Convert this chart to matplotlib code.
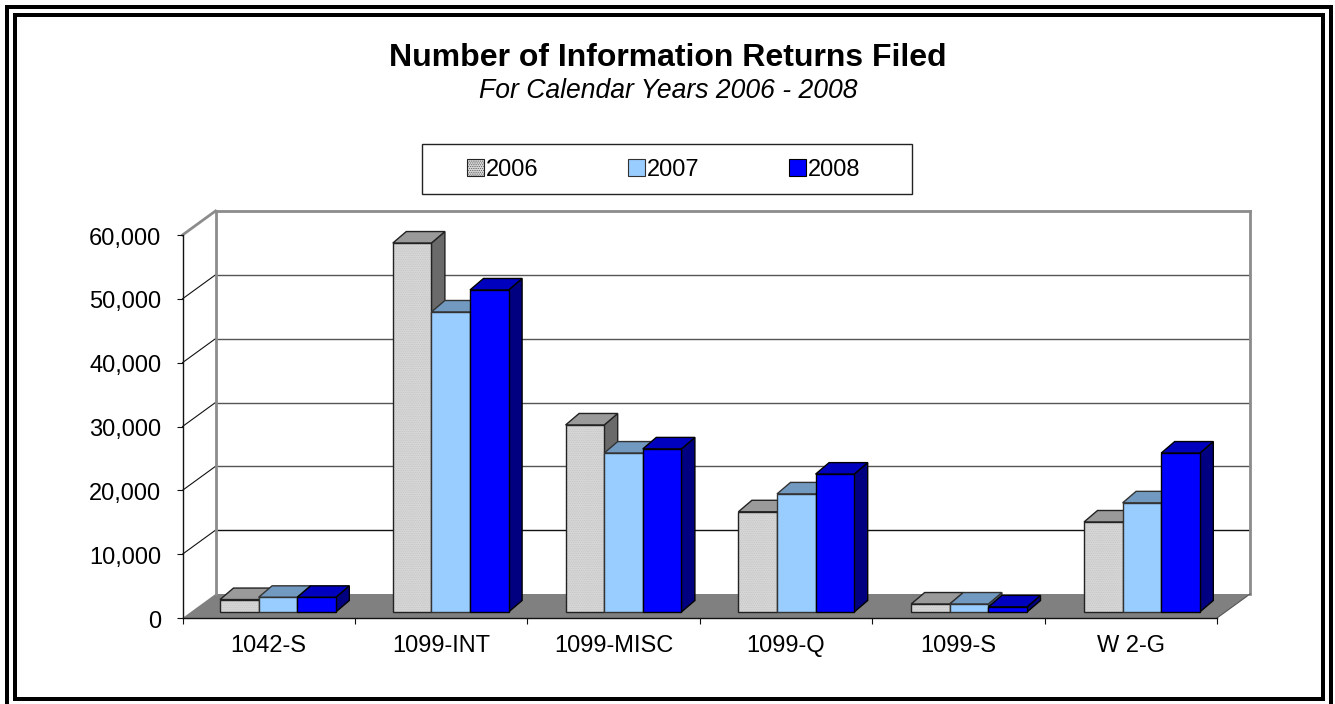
import matplotlib
matplotlib.use("Agg")
import matplotlib.pyplot as plt
from matplotlib.patches import Polygon, Rectangle
from matplotlib.transforms import ScaledTranslation

plt.rcParams['font.family'] = ['Liberation Sans', 'DejaVu Sans']
plt.rcParams['hatch.linewidth'] = 0.3

categories = ['1042-S', '1099-INT', '1099-MISC', '1099-Q', '1099-S', 'W 2-G']
years = ['2006', '2007', '2008']
v2006 = [1950, 57800, 29300, 15700, 1250, 14100]
v2007 = [2300, 47000, 24900, 18500, 1250, 17100]
v2008 = [2300, 50450, 25550, 21600, 800, 24900]
y_ticks = [0, 10000, 20000, 30000, 40000, 50000, 60000]

W, H = 1335, 704
fig = plt.figure(figsize=(W / 100, H / 100), dpi=100, facecolor='white')


def frect(x0, y0, x1, y1, **kw):
    fig.add_artist(Rectangle((x0 / W, 1 - y1 / H), (x1 - x0) / W, (y1 - y0) / H,
                             transform=fig.transFigure, **kw))


# double page frame
for x0, y0, x1, y1 in [(5, 5, 1333, 8.5), (5, 5, 9, 704), (1329, 5, 1333, 704),
                       (13, 13, 1325, 16.5), (13, 13, 17, 701), (1321, 13, 1325, 701),
                       (13, 697, 1325, 701)]:
    frect(x0, y0, x1, y1, facecolor='black', edgecolor='none')

ax_l, ax_r, ax_t, ax_b = 182.5, 1217, 235, 618
ax = fig.add_axes([ax_l / W, 1 - ax_b / H, (ax_r - ax_l) / W, (ax_b - ax_t) / H])
ax.set_xlim(0, 6)
ax.set_ylim(0, 60000)
ax.patch.set_alpha(0)
ux = (ax_r - ax_l) / 6       # px per category
uy = (ax_b - ax_t) / 60000   # px per value unit

DX, DY = 33 / ux, 24 / uy          # chart depth
BDX, BDY = 13.5 / ux, 11.5 / uy    # bar depth
BASE = 6 / uy                      # bars stand in from the floor's front edge
BAR_W = 38.6 / ux
FIRST = 37.5 / ux
STEP = 172.8 / ux

# floor
ax.add_patch(Polygon([(0, 0), (6, 0), (6 + DX, DY), (DX, DY)], closed=True,
                     facecolor='#808080', edgecolor='none', clip_on=False, zorder=1))
# wall grid
for i, v in enumerate(y_ticks[1:]):
    last = v == y_ticks[-1]
    c = '#8c8c8c' if last else ('#111111' if v == 10000 else '#555555')
    lw = 2.0 if last else 1.0
    ax.plot([0, DX], [v, v + DY], color='#8c8c8c' if last else '#111111',
            lw=2.0 if last else 0.8, clip_on=False, zorder=1.5)
    ax.plot([DX, 6 + DX], [v + DY, v + DY], color=c, lw=lw, clip_on=False, zorder=1.5)
# wall borders
for x in (DX, 6 + DX):
    ax.plot([x, x], [DY, 60000 + DY], color='#8c8c8c', lw=2.0, clip_on=False, zorder=1.6)
ax.plot([6, 6 + DX], [0, DY], color='#555555', lw=0.8, clip_on=False, zorder=1.6)

styles = [
    dict(face='#d6d6d6', top='#9a9a9a', side='#6a6a6a', edge='#222222', hatch='.........', hc='#bdbdbd'),
    dict(face='#99ccff', top='#7299bf', side='#4d6680', edge='#333333', hatch=None, hc=None),
    dict(face='#0000ff', top='#0000bf', side='#000080', edge='#000000', hatch=None, hc=None),
]
series = [v2006, v2007, v2008]

z = 3.0
for i in range(len(categories)):
    for j, vals in enumerate(series):
        s = styles[j]
        x0 = i * STEP + FIRST + j * BAR_W
        x1 = x0 + BAR_W
        y0, y1 = BASE, BASE + vals[i]
        side = Polygon([(x1, y0), (x1 + BDX, y0 + BDY), (x1 + BDX, y1 + BDY), (x1, y1)], closed=True,
                       facecolor=s['side'], edgecolor=s['edge'], lw=1.0, clip_on=False, zorder=z)
        top = Polygon([(x0, y1), (x1, y1), (x1 + BDX, y1 + BDY), (x0 + BDX, y1 + BDY)], closed=True,
                      facecolor=s['top'], edgecolor=s['edge'], lw=1.0, clip_on=False, zorder=z)
        ax.add_patch(side)
        ax.add_patch(top)
        # fill, optional dither, then outline
        ax.bar(x0, vals[i], width=BAR_W, bottom=BASE, align='edge', color=s['face'],
               edgecolor='none', clip_on=False, zorder=z + 0.1)
        if s['hatch']:
            ax.bar(x0, vals[i], width=BAR_W, bottom=BASE, align='edge', facecolor='none',
                   edgecolor=s['hc'], hatch=s['hatch'], lw=0, clip_on=False, zorder=z + 0.2)
        ax.bar(x0, vals[i], width=BAR_W, bottom=BASE, align='edge', facecolor='none',
               edgecolor=s['edge'], lw=1.0, clip_on=False, zorder=z + 0.3)
        z += 1

for sp in ('top', 'right'):
    ax.spines[sp].set_visible(False)
for sp in ('left', 'bottom'):
    ax.spines[sp].set_color('#111111')
    ax.spines[sp].set_linewidth(1.0)
    ax.spines[sp].set_zorder(2)

ax.set_yticks(y_ticks)
ax.set_yticklabels([f'{v:,}' for v in y_ticks], fontsize=17)
ax.set_xticks(range(7))
ax.set_xticklabels([])
ax.set_xticks([i + 0.5 for i in range(6)], minor=True)
ax.set_xticklabels(categories, minor=True, fontsize=17)
ax.tick_params(axis='y', length=4.3, width=0.8, pad=11, color='#111111')
ax.tick_params(axis='x', which='major', length=4.3, width=0.8, color='#111111')
ax.tick_params(axis='x', which='minor', length=0, pad=12)
nudge = ScaledTranslation(0, -1 / 100, fig.dpi_scale_trans)
for lab in ax.get_yticklabels():
    lab.set_transform(lab.get_transform() + nudge)

fig.text(667.5 / W, 1 - 58 / H, 'Number of Information Returns Filed', ha='center', va='center',
         fontsize=23, fontweight='bold')
fig.text(668 / W, 1 - 91.5 / H, 'For Calendar Years 2006 - 2008', ha='center', va='center',
         fontsize=19.1, fontstyle='italic')

# legend
frect(421.5, 144, 911.5, 193.5, facecolor='white', edgecolor='#222222', lw=1.0, zorder=5)
handles = [Rectangle((0, 0), 1, 1, facecolor=s['face'], edgecolor=s['edge'], lw=0.8,
                     hatch=s['hatch'] and '.........') for s in styles]
leg = fig.legend(handles, years, loc='center', bbox_to_anchor=(663.5 / W, 1 - 169.5 / H),
                 bbox_transform=fig.transFigure, ncol=3, frameon=False, fontsize=17,
                 handlelength=0.72, handleheight=0.72, handletextpad=0.1, columnspacing=3.77,
                 borderpad=0, borderaxespad=0)
leg.set_zorder(6)

fig.savefig('out.png', dpi=100)
